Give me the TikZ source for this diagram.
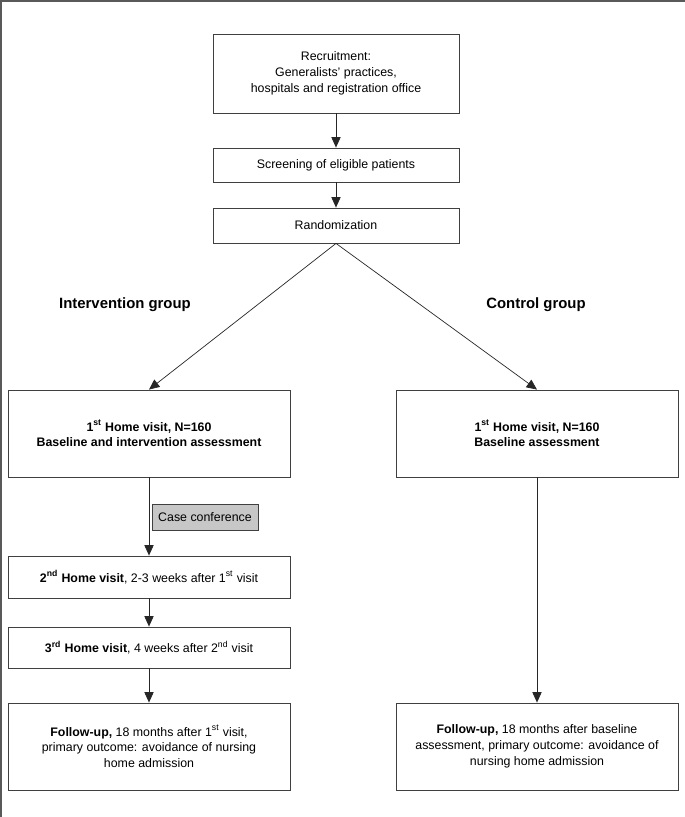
\documentclass[tikz,border=0pt]{standalone}
\usepackage{fontspec}
\setmainfont{Liberation Sans}
\usetikzlibrary{arrows.meta}

\begin{document}
\begin{tikzpicture}[
        box/.style={rectangle, draw=black!75, line width=0.6pt, align=center, inner sep=0pt, font=\fontsize{8.8}{11.3}\selectfont},
        arrow/.style={draw=black!85, line width=0.5pt, -{Triangle[length=2.6mm, width=2.3mm]}},
        group/.style={font=\fontsize{10.6}{12}\selectfont\bfseries}]
        \useasboundingbox (0,0) rectangle (17.125,20.425);
        % Outer frame
            \draw[black!65, line width=1pt] (0.03,0) -- (0.03,20.4) -- (17.125,20.4);

        % Common steps
            \node[box, minimum width=6.15cm, minimum height=1.975cm] (recruit) at (8.4, 18.5875) {Recruitment:\\ Generalists' practices,\\ hospitals and registration office};
            \node[box, minimum width=6.15cm, minimum height=0.85cm] (screen) at (8.4, 16.3) {Screening of eligible patients};
            \node[box, minimum width=6.15cm, minimum height=0.875cm] (random) at (8.4, 14.7875) {Randomization};

            % Group labels
            \node[group] (intlabel) at (3.125, 12.8) {Intervention group};
            \node[group] (ctrllabel) at (13.4, 12.8) {Control group};

            % Intervention group
            \node[box, font=\fontsize{8.8}{11.3}\selectfont\bfseries, minimum width=7.05cm, minimum height=2.175cm] (int1) at (3.725, 9.5875) {1\textsuperscript{st} Home visit, N=160\\ Baseline and intervention assessment};
            \node[box, fill=black!22, minimum width=2.65cm, minimum height=0.65cm] (case) at (5.125, 7.5) {Case conference};
            \node[box, minimum width=7.05cm, minimum height=1.05cm] (visit2) at (3.725, 6.0) {\textbf{2\textsuperscript{nd} Home visit}, 2-3 weeks after 1\textsuperscript{st} visit};
            \node[box, minimum width=7.05cm, minimum height=1.025cm] (visit3) at (3.725, 4.2375) {\textbf{3\textsuperscript{rd} Home visit}, 4 weeks after 2\textsuperscript{nd} visit};
            \node[box, minimum width=7.05cm, minimum height=2.175cm] (intfu) at (3.725, 1.7625) {\textbf{Follow-up,} 18 months after 1\textsuperscript{st} visit,\\ primary outcome: avoidance of nursing\\ home admission};

            % Control group
            \node[box, font=\fontsize{8.8}{11.3}\selectfont\bfseries, minimum width=7.05cm, minimum height=2.175cm] (ctrl1) at (13.425, 9.5875) {1\textsuperscript{st} Home visit, N=160\\ Baseline assessment};
            \node[box, minimum width=7.05cm, minimum height=2.175cm] (ctrlfu) at (13.425, 1.7625) {\textbf{Follow-up,} 18 months after baseline\\ assessment, primary outcome: avoidance of\\ nursing home admission};

            % Connections
            \draw[arrow] (recruit) -- (screen);
            \draw[arrow] (screen) -- (random);
            \draw[arrow] (random.south) -- (int1.north);
            \draw[arrow] (random.south) -- (ctrl1.north);
            \draw[arrow] (int1) -- (visit2);
            \draw[arrow] (visit2) -- (visit3);
            \draw[arrow] (visit3) -- (intfu);
            \draw[arrow] (ctrl1) -- (ctrlfu);
    \end{tikzpicture}
\end{document}
